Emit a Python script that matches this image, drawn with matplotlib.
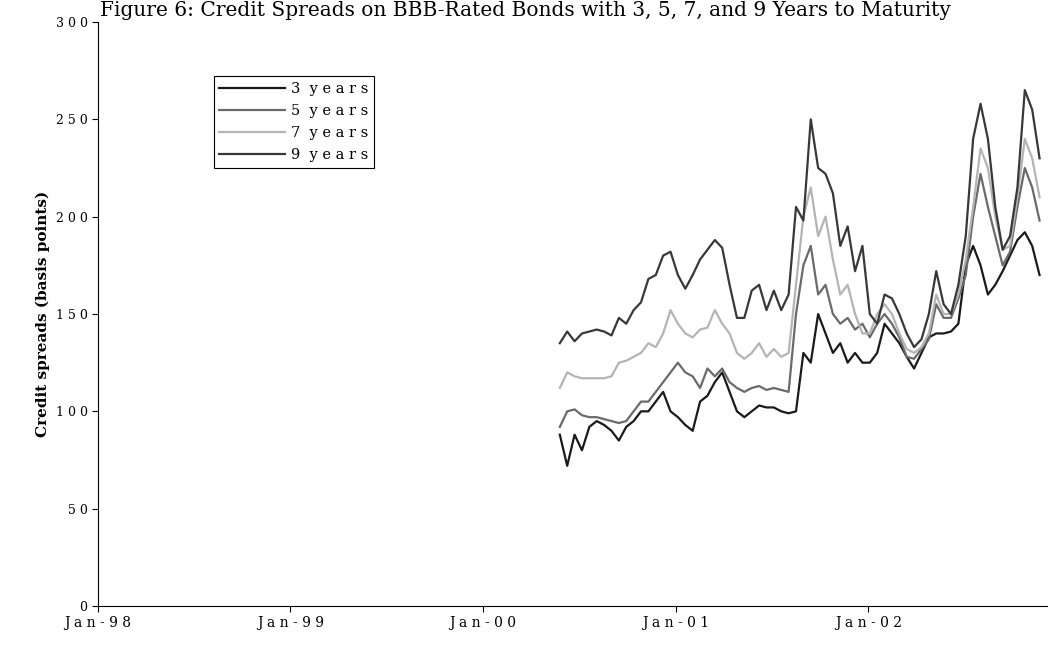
import matplotlib
matplotlib.use("Agg")
import matplotlib.pyplot as plt
import pandas as pd

y9 = [135,141,136,140,141,142,141,139,148,145,152,
      156,168,170,180,182,170,163,170,178,183,188,
      184,165,148,148,162,165,152,162,152,160,205,
      198,250,225,222,212,185,195,172,185,150,145,
      160,158,150,140,133,137,150,172,155,150,165,
      190,240,258,240,205,183,190,215,265,255,230]
y7 = [112,120,118,117,117,117,117,118,125,126,128,
      130,135,133,140,152,145,140,138,142,143,152,
      145,140,130,127,130,135,128,132,128,130,165,
      200,215,190,200,178,160,165,150,140,140,150,
      155,150,140,132,130,133,140,160,150,150,160,
      178,205,235,225,200,183,185,210,240,230,210]
y5 = [92,100,101,98,97,97,96,95,94,95,100,
      105,105,110,115,120,125,120,118,112,122,118,
      122,115,112,110,112,113,111,112,111,110,150,
      175,185,160,165,150,145,148,142,145,138,145,
      150,145,138,128,127,132,137,155,148,148,158,
      170,200,222,205,190,175,182,205,225,215,198]
y3 = [88,72,88,80,92,95,93,90,85,92,95,
      100,100,105,110,100,97,93,90,105,108,115,
      120,110,100,97,100,103,102,102,100,99,100,
      130,125,150,140,130,135,125,130,125,125,130,
      145,140,135,128,122,130,138,140,140,141,145,
      175,185,175,160,165,172,180,188,192,185,170]
labels = ["3  y e a r s", "5  y e a r s", "7  y e a r s", "9  y e a r s"]
colors = ["#1a1a1a", "#6a6a6a", "#b4b4b4", "#383838"]
dates = pd.date_range("2000-05-26", periods=len(y3), freq="14D")
xticklabels = ["J a n - 9 8", "J a n - 9 9", "J a n - 0 0", "J a n - 0 1", "J a n - 0 2"]
yticks = [0, 50, 100, 150, 200, 250, 300]

fig = plt.figure(figsize=(10.48, 6.53), dpi=100)
ax = fig.add_axes([98/1048, 47/653, 950/1048, 584/653])
for ys, lab, c in zip([y3, y5, y7, y9], labels, colors):
    ax.plot(dates, ys, color=c, lw=1.6, label=lab)
ax.set_ylim(0, 300)
ax.set_xlim(pd.Timestamp("1998-01-01"), pd.Timestamp("2002-12-08"))
ax.set_yticks(yticks)
ax.set_yticklabels([" ".join(str(v)) for v in yticks], family="DejaVu Serif", fontsize=9)
xt = [pd.Timestamp(f"{y}-01-01") for y in range(1998, 2003)]
ax.set_xticks(xt)
ax.set_xticklabels(xticklabels, family="DejaVu Serif", fontsize=10)
ax.tick_params(direction="out", length=4, color="black")
ax.spines["top"].set_visible(False)
ax.spines["right"].set_visible(False)
ax.set_ylabel("Credit spreads (basis points)", family="DejaVu Serif", fontweight="bold", fontsize=11)
leg = ax.legend(loc="upper left", bbox_to_anchor=(0.114, 0.92), prop={"family": "DejaVu Serif", "size": 10.5},
                fancybox=False, edgecolor="black", framealpha=1, handlelength=4.5, borderpad=0.4,
                labelspacing=0.55, handletextpad=0.4)
leg.get_frame().set_linewidth(0.8)
fig.text(100/1048, 0.998, "Figure 6: Credit Spreads on BBB-Rated Bonds with 3, 5, 7, and 9 Years to Maturity",
         ha="left", va="top", family="DejaVu Serif", fontsize=14.5)
fig.savefig("out.png", dpi=100)
